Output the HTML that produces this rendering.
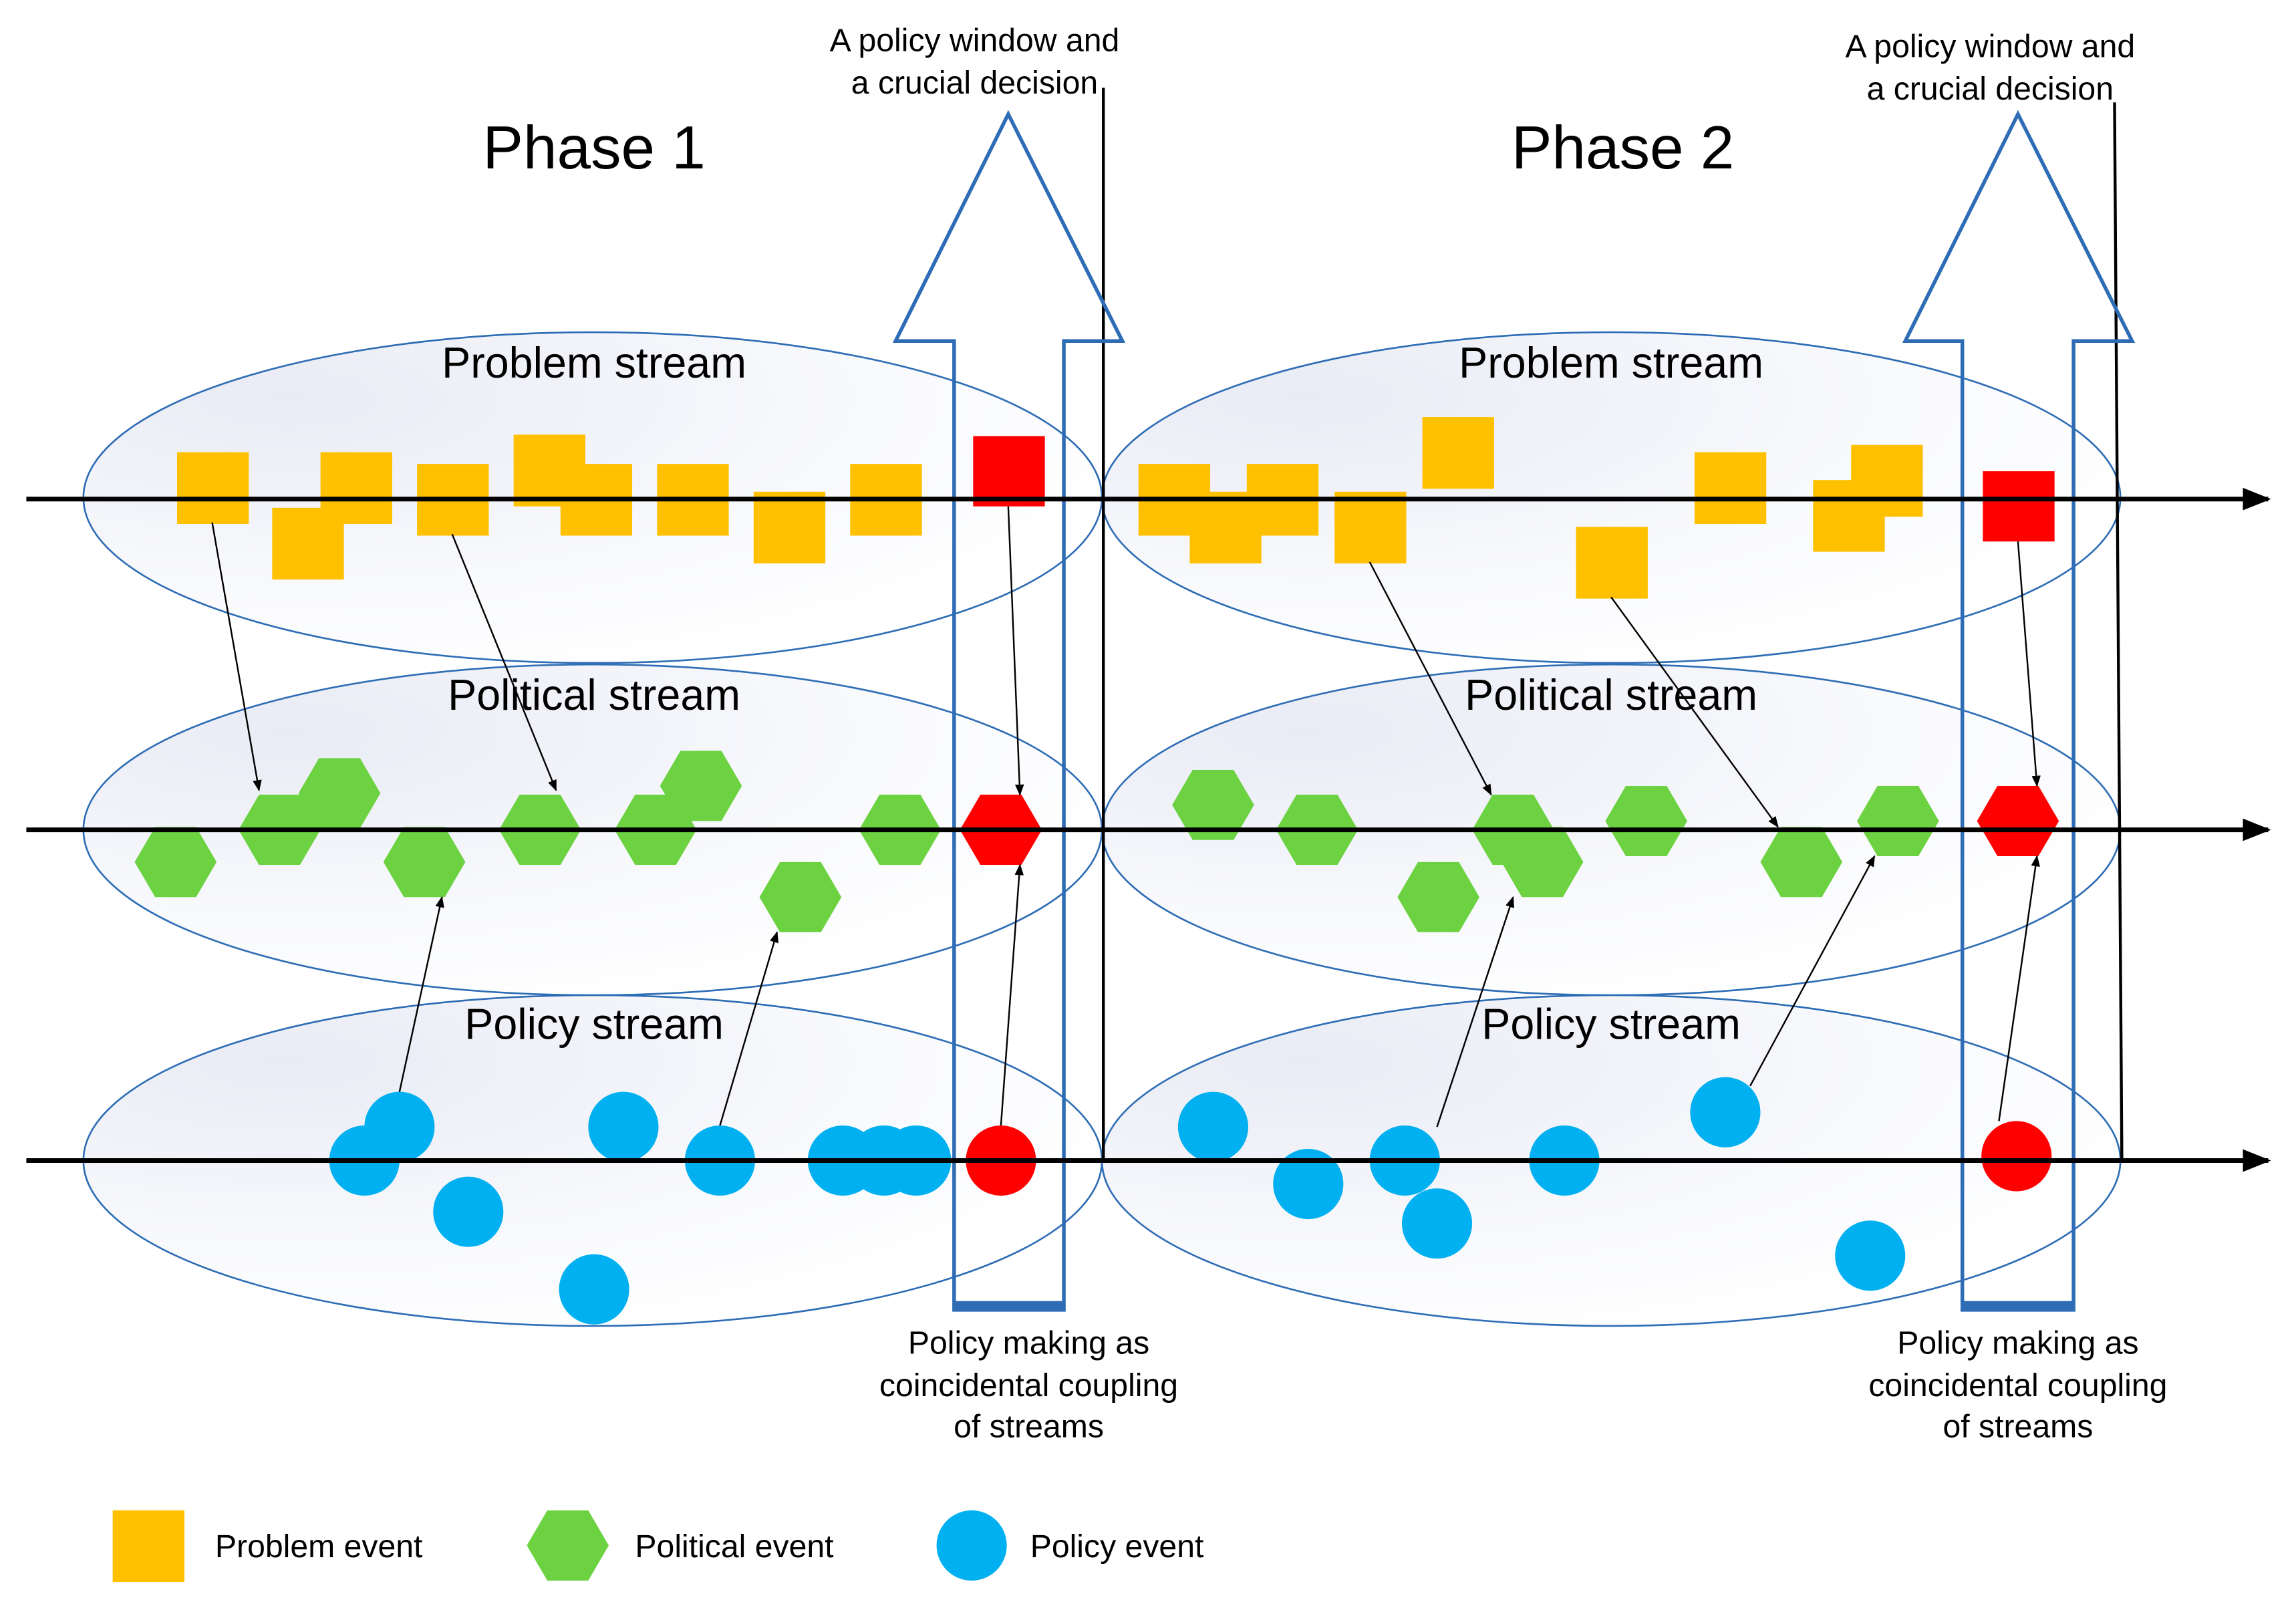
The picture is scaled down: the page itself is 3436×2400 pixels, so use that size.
<!DOCTYPE html>
<html><head><meta charset="utf-8"><style>html,body{margin:0;padding:0;background:#fff}svg{display:block}</style></head>
<body>
<svg width="3436" height="2400" viewBox="0 0 1569 1096" preserveAspectRatio="none" xmlns="http://www.w3.org/2000/svg" font-family="'Liberation Sans', sans-serif">
<defs>
<radialGradient id="g" cx="0.2" cy="0.2" r="0.9">
<stop offset="0" stop-color="#e9ebf5"/><stop offset="0.6" stop-color="#f8f9fc"/><stop offset="1" stop-color="#ffffff"/>
</radialGradient>
<marker id="a" viewBox="0 0 10 10" refX="9" refY="5" markerWidth="7" markerHeight="7" orient="auto-start-reverse"><path d="M0,1 L10,5 L0,9 z" fill="#000"/></marker>
<marker id="b" viewBox="0 0 10 10" refX="9" refY="5" markerWidth="7" markerHeight="6" orient="auto"><path d="M0,1 L10,5 L0,9 z" fill="#000"/></marker>
<symbol id="hex" viewBox="-28 -24 56 48"><polygon points="-28,0 -14,-24 14,-24 28,0 14,24 -14,24"/></symbol>
</defs>

<g fill="url(#g)" stroke="#2e6db5" stroke-width="1.2">
<ellipse cx="405" cy="340" rx="348" ry="113"/>
<ellipse cx="1101" cy="340" rx="348" ry="113"/>
<ellipse cx="405" cy="567" rx="348" ry="113"/>
<ellipse cx="1101" cy="567" rx="348" ry="113"/>
<ellipse cx="405" cy="793" rx="348" ry="113"/>
<ellipse cx="1101" cy="793" rx="348" ry="113"/>
</g>

<g font-size="29.5" text-anchor="middle" fill="#000">
<text x="406" y="258">Problem stream</text>
<text x="1101" y="258">Problem stream</text>
<text x="406" y="485">Political stream</text>
<text x="1101" y="485">Political stream</text>
<text x="406" y="710">Policy stream</text>
<text x="1101" y="710">Policy stream</text>
<text x="406" y="115" font-size="41.5">Phase 1</text>
<text x="1109" y="115" font-size="41.5">Phase 2</text>
</g>

<line x1="754" y1="60" x2="754" y2="793" stroke="#000" stroke-width="2"/>
<line x1="1445" y1="70" x2="1450" y2="793" stroke="#000" stroke-width="2"/>

<g fill="#FFC000">
<rect x="121" y="309" width="49" height="49"/>
<rect x="186" y="347" width="49" height="49"/>
<rect x="219" y="309" width="49" height="49"/>
<rect x="285" y="317" width="49" height="49"/>
<rect x="351" y="297" width="49" height="49"/>
<rect x="383" y="317" width="49" height="49"/>
<rect x="449" y="317" width="49" height="49"/>
<rect x="515" y="336" width="49" height="49"/>
<rect x="581" y="317" width="49" height="49"/>
<rect x="778" y="317" width="49" height="49"/>
<rect x="813" y="336" width="49" height="49"/>
<rect x="852" y="317" width="49" height="49"/>
<rect x="912" y="336" width="49" height="49"/>
<rect x="972" y="285" width="49" height="49"/>
<rect x="1077" y="360" width="49" height="49"/>
<rect x="1158" y="309" width="49" height="49"/>
<rect x="1239" y="328" width="49" height="49"/>
<rect x="1265" y="304" width="49" height="49"/>
</g>
<rect x="665" y="298" width="49" height="48" fill="#f00"/>
<rect x="1355" y="322" width="49" height="48" fill="#f00"/>

<g fill="#6CD242">
<use href="#hex" x="92" y="565" width="56" height="48"/>
<use href="#hex" x="163" y="543" width="56" height="48"/>
<use href="#hex" x="204" y="518" width="56" height="48"/>
<use href="#hex" x="262" y="565" width="56" height="48"/>
<use href="#hex" x="341" y="543" width="56" height="48"/>
<use href="#hex" x="420" y="543" width="56" height="48"/>
<use href="#hex" x="451" y="513" width="56" height="48"/>
<use href="#hex" x="519" y="589" width="56" height="48"/>
<use href="#hex" x="587" y="543" width="56" height="48"/>
<use href="#hex" x="801" y="526" width="56" height="48"/>
<use href="#hex" x="872" y="543" width="56" height="48"/>
<use href="#hex" x="955" y="589" width="56" height="48"/>
<use href="#hex" x="1006" y="543" width="56" height="48"/>
<use href="#hex" x="1026" y="565" width="56" height="48"/>
<use href="#hex" x="1097" y="537" width="56" height="48"/>
<use href="#hex" x="1203" y="565" width="56" height="48"/>
<use href="#hex" x="1269" y="537" width="56" height="48"/>
</g>
<g fill="#f00">
<use href="#hex" x="656" y="543" width="56" height="48"/>
<use href="#hex" x="1351" y="537" width="56" height="48"/>
</g>

<g fill="#00B0F0">
<circle cx="249" cy="793" r="24"/>
<circle cx="273" cy="770" r="24"/>
<circle cx="320" cy="828" r="24"/>
<circle cx="406" cy="881" r="24"/>
<circle cx="426" cy="770" r="24"/>
<circle cx="492" cy="793" r="24"/>
<circle cx="576" cy="793" r="24"/>
<circle cx="604" cy="793" r="24"/>
<circle cx="626" cy="793" r="24"/>
<circle cx="829" cy="770" r="24"/>
<circle cx="894" cy="809" r="24"/>
<circle cx="960" cy="793" r="24"/>
<circle cx="982" cy="836" r="24"/>
<circle cx="1069" cy="793" r="24"/>
<circle cx="1179" cy="760" r="24"/>
<circle cx="1278" cy="858" r="24"/>
</g>
<circle cx="684" cy="793" r="24" fill="#f00"/>
<circle cx="1378" cy="790" r="24" fill="#f00"/>

<g fill="none" stroke="#2e6db5" stroke-width="2.5">
<polygon points="652,895 652,233 612,233 689,78 767,233 727,233 727,895"/>
<polygon points="1341,895 1341,233 1302,233 1379,78 1457,233 1417,233 1417,895"/>
</g>
<rect x="651" y="889" width="77" height="7" fill="#2e6db5"/>
<rect x="1340" y="889" width="78" height="7" fill="#2e6db5"/>

<g stroke="#000" stroke-width="3.2" marker-end="url(#b)">
<line x1="18" y1="341" x2="1550" y2="341"/>
<line x1="18" y1="567" x2="1550" y2="567"/>
<line x1="18" y1="793" x2="1550" y2="793"/>
</g>

<g stroke="#000" stroke-width="1.1" marker-end="url(#a)">
<line x1="145" y1="357" x2="177" y2="540"/>
<line x1="309" y1="365" x2="380" y2="540"/>
<line x1="689" y1="346" x2="697" y2="543"/>
<line x1="273" y1="746" x2="302" y2="613"/>
<line x1="492" y1="769" x2="531" y2="637"/>
<line x1="684" y1="769" x2="697" y2="591"/>
<line x1="936" y1="384" x2="1019" y2="543"/>
<line x1="1101" y1="408" x2="1215" y2="565"/>
<line x1="1379" y1="370" x2="1392" y2="537"/>
<line x1="982" y1="770" x2="1034" y2="613"/>
<line x1="1196" y1="742" x2="1281" y2="585"/>
<line x1="1366" y1="766" x2="1392" y2="585"/>
</g>

<g font-size="22" text-anchor="middle" fill="#000">
<text x="666" y="35">A policy window and</text>
<text x="666" y="64">a crucial decision</text>
<text x="1360" y="39">A policy window and</text>
<text x="1360" y="68">a crucial decision</text>
<text x="703" y="925">Policy making as</text>
<text x="703" y="954">coincidental coupling</text>
<text x="703" y="982">of streams</text>
<text x="1379" y="925">Policy making as</text>
<text x="1379" y="954">coincidental coupling</text>
<text x="1379" y="982">of streams</text>
</g>

<rect x="77" y="1032" width="49" height="49" fill="#FFC000"/>
<use href="#hex" x="360" y="1032" width="56" height="48" fill="#6CD242"/>
<circle cx="664" cy="1056" r="24" fill="#00B0F0"/>
<g font-size="22" fill="#000">
<text x="147" y="1064">Problem event</text>
<text x="434" y="1064">Political event</text>
<text x="704" y="1064">Policy event</text>
</g>
</svg>
</body></html>
